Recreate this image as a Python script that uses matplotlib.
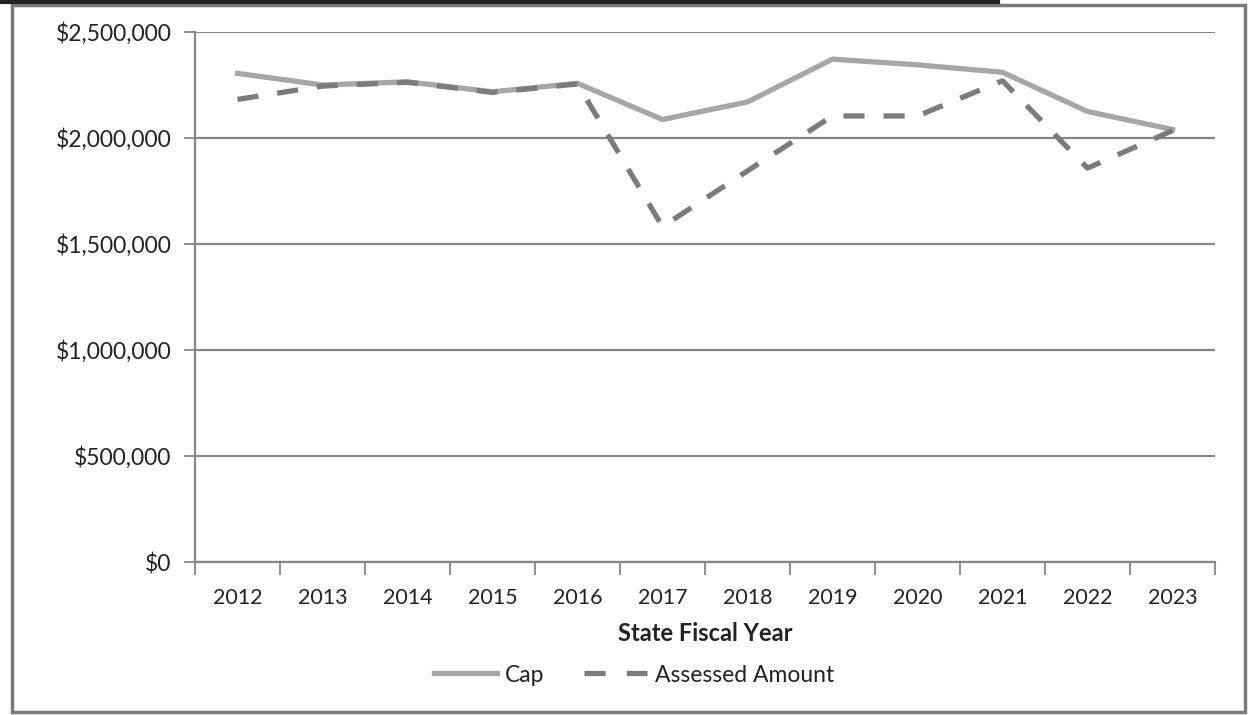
import matplotlib
matplotlib.use("Agg")
import matplotlib.pyplot as plt
from matplotlib.ticker import FuncFormatter, FixedLocator
from matplotlib.lines import Line2D
from matplotlib.patches import Rectangle

years = ["2012", "2013", "2014", "2015", "2016", "2017",
         "2018", "2019", "2020", "2021", "2022", "2023"]
cap = [2305000, 2250000, 2265000, 2218000, 2258000, 2087000,
       2170000, 2372000, 2345000, 2310000, 2125000, 2040000]
assessed = [2182000, 2245000, 2263000, 2215000, 2255000, 1582000,
            1845000, 2104000, 2104000, 2270000, 1858000, 2035000]
y_ticks = [0, 500000, 1000000, 1500000, 2000000, 2500000]

plt.rcParams['font.family'] = ['Lato', 'DejaVu Sans']

W, H = 1248, 715
fig = plt.figure(figsize=(W / 100, H / 100), dpi=100)
fig.patch.set_facecolor("white")

# outer frame and the dark rule along the top
fig.add_artist(Rectangle((12 / W, 3 / H), (1245 - 12) / W, (712 - 5) / H,
                         transform=fig.transFigure, fill=False,
                         edgecolor="#7a7a7a", linewidth=2.5))
fig.add_artist(Line2D([0, 998 / W], [1 - 1.5 / H, 1 - 1.5 / H],
                      transform=fig.transFigure, color="#222222", linewidth=3))

left, right, top, bottom = 195, 1215, 32, 562
ax = fig.add_axes([left / W, 1 - bottom / H, (right - left) / W, (bottom - top) / H])

x = list(range(len(years)))
grid_c = "#868686"
text_c = "#222222"
cap_c = "#a6a6a6"
ass_c = "#7b7b7b"
ax.plot(x, cap, color=cap_c, linewidth=3.8, solid_joinstyle="round",
        label="Cap", zorder=3)
ax.plot(x, assessed, color=ass_c, linewidth=3.8, dashes=(4.0, 3.6),
        label="Assessed Amount", zorder=4)

ax.set_xlim(-0.5, len(years) - 0.5)
ax.set_ylim(0, 2500000)
ax.yaxis.set_major_locator(FixedLocator(y_ticks))
ax.yaxis.set_major_formatter(FuncFormatter(lambda v, p: "${:,.0f}".format(v)))
ax.grid(axis="y", color=grid_c, linewidth=1.6)
ax.set_axisbelow(True)

ax.set_xticks(x)
ax.set_xticklabels(years)
ax.set_xticks([i - 0.5 for i in range(len(years) + 1)], minor=True)
ax.tick_params(axis="x", which="major", length=0, pad=19,
               labelsize=15.5, labelcolor=text_c)
ax.tick_params(axis="x", which="minor", length=9, width=1.3, color=grid_c,
               direction="out")
ax.tick_params(axis="y", length=8, width=1.3, color=grid_c, pad=9,
               labelsize=16.5, labelcolor=text_c)

for s in ["top", "right"]:
    ax.spines[s].set_visible(False)
for s in ["left", "bottom"]:
    ax.spines[s].set_color(grid_c)
    ax.spines[s].set_linewidth(1.6)

ax.set_xlabel("State Fiscal Year", fontsize=17, fontweight="bold",
              color=text_c, labelpad=10)

# legend keys: solid line, and two dashes separated by a gap
handles = [Line2D([], [], color=cap_c, linewidth=3.8),
           Line2D([], [], color=ass_c, linewidth=3.8, dashes=(4.0, 4.0))]
leg = fig.legend(handles, ["Cap", "Assessed Amount"], loc="center",
                 bbox_to_anchor=(634 / W, 1 - 675 / H), ncol=2,
                 frameon=False, fontsize=16.5, handlelength=2.75,
                 columnspacing=1.7, handletextpad=0.35)
for t in leg.get_texts():
    t.set_color(text_c)

fig.savefig("out.png", dpi=100, facecolor="white")
